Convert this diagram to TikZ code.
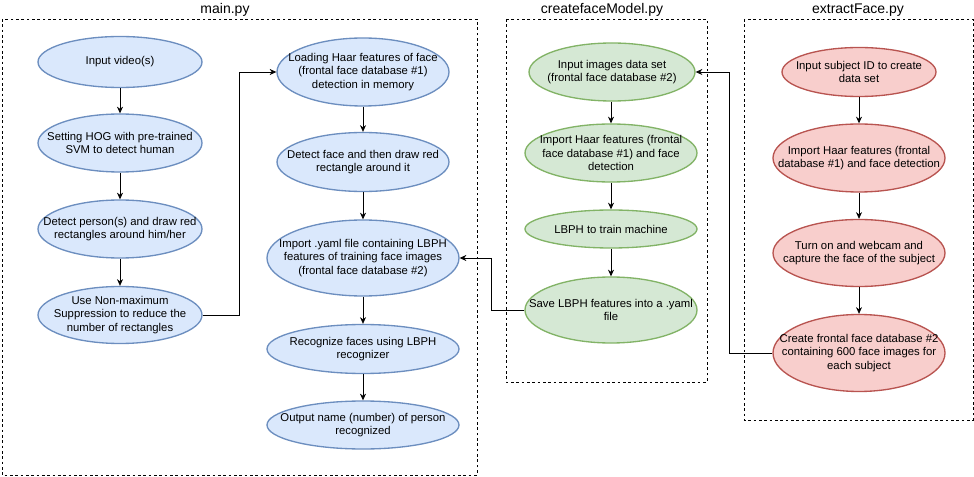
\documentclass[tikz,border=0pt]{standalone}
\usepackage{fontspec}
\setmainfont{Liberation Sans}
\usetikzlibrary{shapes.geometric,arrows.meta}

\definecolor{blueFill}{RGB}{218,232,252}
\definecolor{blueLine}{RGB}{108,142,191}
\definecolor{greenFill}{RGB}{213,232,212}
\definecolor{greenLine}{RGB}{130,179,102}
\definecolor{redFill}{RGB}{248,206,204}
\definecolor{redLine}{RGB}{184,84,80}

\tikzset{
	ovalnode/.style={ellipse, inner xsep=-60pt, inner ysep=-30pt, align=center, line width=1pt,
		font=\fontsize{8.5}{10}\selectfont},
	bluenode/.style={ovalnode, draw=blueLine, fill=blueFill},
	greennode/.style={ovalnode, draw=greenLine, fill=greenFill},
	rednode/.style={ovalnode, draw=redLine, fill=redFill},
	groupbox/.style={draw=black, line width=0.6pt, dash pattern=on 2pt off 2pt},
	grouptitle/.style={font=\fontsize{10.5}{12}\selectfont},
	flow/.style={draw=black, line width=0.6pt, -{Stealth[length=5pt,width=4.5pt]}},
}

\begin{document}
\begin{tikzpicture}[x=0.75pt,y=0.75pt,yscale=-1,xscale=1]
	\useasboundingbox (0,0) rectangle (974,477);
	
	%Shape: Group boxes
	\draw [groupbox] (2,19) rectangle (477,475);
	\draw [groupbox] (506,19) rectangle (707,382);
	\draw [groupbox] (744,19) rectangle (973,420);
	
	% Text Node
	\node [grouptitle] (titleMain) at (225,10) {main.py};
	% Text Node
	\node [grouptitle] (titleModel) at (602,10) {createfaceModel.py};
	% Text Node
	\node [grouptitle] (titleExtract) at (858,10) {extractFace.py};
	
	%Shape: Ellipse (main.py, left)
	\node [bluenode, minimum width=0.75*164pt, minimum height=0.75*51pt] (video) at (120,62) {Input video(s)};
	\node [bluenode, minimum width=0.75*164pt, minimum height=0.75*58pt] (hog) at (120,143) {Setting HOG with pre-trained\\SVM to detect human};
	\node [bluenode, minimum width=0.75*164pt, minimum height=0.75*58pt] (person) at (120,229) {Detect person(s) and draw red\\rectangles around him/her};
	\node [bluenode, minimum width=0.75*164pt, minimum height=0.75*57pt] (nms) at (120,315) {Use Non-maximum\\Suppression to reduce the\\number of rectangles};
	
	%Shape: Ellipse (main.py, right)
	\node [bluenode, minimum width=0.75*172pt, minimum height=0.75*68pt] (loadHaar) at (363,72) {Loading Haar features of face\\(frontal face database \#1)\\detection in memory};
	\node [bluenode, minimum width=0.75*172pt, minimum height=0.75*59pt] (detFace) at (363,162) {Detect face and then draw red\\rectangle around it};
	\node [bluenode, minimum width=0.75*192pt, minimum height=0.75*76pt] (yaml) at (363,258) {Import .yaml file containing LBPH\\features of training face images\\(frontal face database \#2)};
	\node [bluenode, minimum width=0.75*192pt, minimum height=0.75*49pt] (recog) at (363,349) {Recognize faces using LBPH\\recognizer};
	\node [bluenode, minimum width=0.75*192pt, minimum height=0.75*48pt] (output) at (363,425) {Output name (number) of person\\recognized};
	
	%Shape: Ellipse (createfaceModel.py)
	\node [greennode, minimum width=0.75*166pt, minimum height=0.75*58pt] (images) at (612,72) {Input images data set\\(frontal face database \#2)};
	\node [greennode, minimum width=0.75*172pt, minimum height=0.75*58pt] (modelHaar) at (611,153) {Import Haar features (frontal\\face database \#1) and face\\detection};
	\node [greennode, minimum width=0.75*172pt, minimum height=0.75*38pt] (train) at (611,229) {LBPH to train machine};
	\node [greennode, minimum width=0.75*172pt, minimum height=0.75*66pt] (save) at (611,310) {Save LBPH features into a .yaml\\file};
	
	%Shape: Ellipse (extractFace.py)
	\node [rednode, minimum width=0.75*154pt, minimum height=0.75*49pt] (subject) at (859,72) {Input subject ID to create\\data set};
	\node [rednode, minimum width=0.75*172pt, minimum height=0.75*68pt] (extHaar) at (859,158) {Import Haar features (frontal\\database \#1) and face detection};
	\node [rednode, minimum width=0.75*172pt, minimum height=0.75*67pt] (webcam) at (859,253) {Turn on and webcam and\\capture the face of the subject};
	\node [rednode, minimum width=0.75*172pt, minimum height=0.75*77pt] (database) at (859,353) {Create frontal face database \#2\\containing 600 face images for\\each subject};
	
	%Straight Lines
	\draw [flow] (video) -- (hog);
	\draw [flow] (hog) -- (person);
	\draw [flow] (person) -- (nms);
	\draw [flow] (loadHaar) -- (detFace);
	\draw [flow] (detFace) -- (yaml);
	\draw [flow] (yaml) -- (recog);
	\draw [flow] (recog) -- (output);
	\draw [flow] (images.south -| modelHaar) -- (modelHaar);
	\draw [flow] (modelHaar) -- (train);
	\draw [flow] (train) -- (save);
	\draw [flow] (subject) -- (extHaar);
	\draw [flow] (extHaar) -- (webcam);
	\draw [flow] (webcam) -- (database);
	
	%Elbow Lines
	\draw [flow] (nms.east) -- ++(37,0) |- (loadHaar.west);
	\draw [flow] (save.west) -- ++(-33,0) |- (yaml.east);
	\draw [flow] (database.west) -- ++(-43,0) |- (images.east);
	
\end{tikzpicture}
\end{document}
